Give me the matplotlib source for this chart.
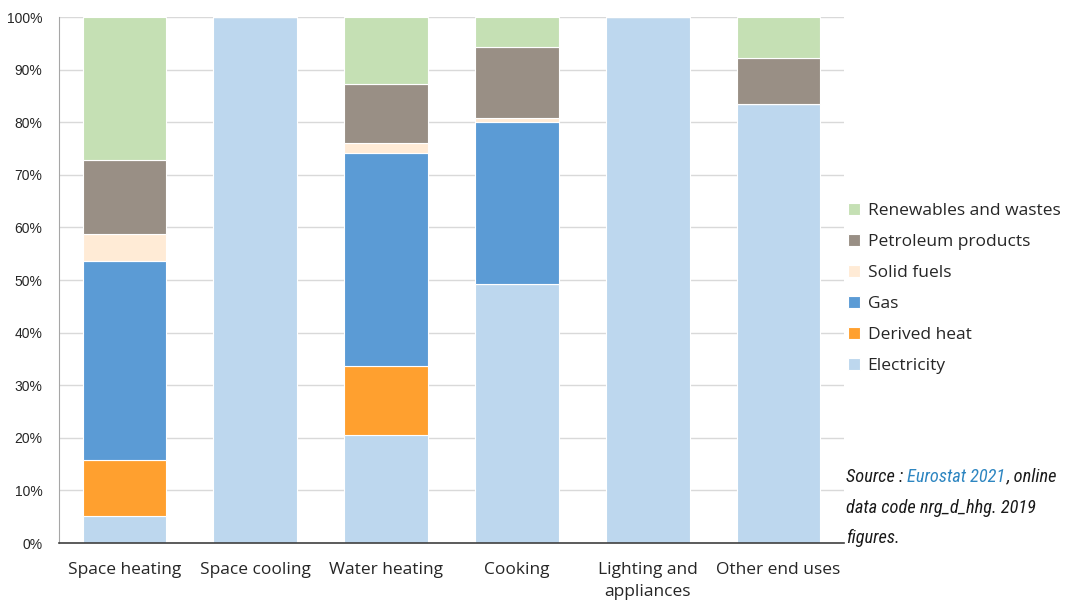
import matplotlib

matplotlib.use("Agg")
import matplotlib.pyplot as plt
import numpy as np
from matplotlib import font_manager
from matplotlib.ticker import PercentFormatter

# Household final energy use by end use and fuel (%), 2019
categories = ["Space heating", "Space cooling", "Water heating", "Cooking",
              "Lighting and\nappliances", "Other end uses"]
electricity = [5.2, 100.0, 20.5, 49.2, 100.0, 83.4]
derived_heat = [10.5, 0.0, 13.1, 0.0, 0.0, 0.0]
gas = [38.0, 0.0, 40.6, 30.9, 0.0, 0.0]
solid_fuels = [5.1, 0.0, 1.9, 0.7, 0.0, 0.0]
petroleum = [14.1, 0.0, 11.2, 13.5, 0.0, 8.8]
renewables = [27.1, 0.0, 12.7, 5.7, 0.0, 7.8]

series = [
    ("Electricity", electricity, "#bdd7ee"),
    ("Derived heat", derived_heat, "#ffa02f"),
    ("Gas", gas, "#5b9bd5"),
    ("Solid fuels", solid_fuels, "#ffebd6"),
    ("Petroleum products", petroleum, "#998f85"),
    ("Renewables and wastes", renewables, "#c5e0b4"),
]

LABEL_FONT = ["Open Sans", "DejaVu Sans"]

# narrow face for the source note, if one is around
installed = {f.name for f in font_manager.fontManager.ttflist}
narrow = [n for n in ("Roboto Condensed", "Liberation Sans Narrow",
                      "DejaVu Sans Condensed", "Open Sans Condensed",
                      "Noto Sans Condensed") if n in installed]
if narrow:
    note_family, note_size = [narrow[0], "DejaVu Sans"], 13.2
else:
    note_family, note_size = ["DejaVu Sans"], 11.2

fig = plt.figure(figsize=(10.75, 6.03), dpi=100)
ax = fig.add_axes([0.0549, 0.0995, 0.7302, 0.8723])

x = np.arange(len(categories))
bottom = np.zeros(len(categories))
handles = []
for name, vals, color in series:
    vals = np.asarray(vals)
    h = ax.bar(x, vals, bottom=bottom, width=0.64, color=color,
               edgecolor="white", linewidth=0.8, label=name, zorder=2)
    handles.append(h)
    bottom += vals

ax.set_xlim(-0.5, len(categories) - 0.5)
ax.set_ylim(0, 100)
ax.set_yticks(np.arange(0, 101, 10))
ax.yaxis.set_major_formatter(PercentFormatter(decimals=0))
ax.grid(axis="y", color="#d9d9d9", linewidth=1.0, zorder=0)
ax.set_axisbelow(True)

for side in ("top", "right"):
    ax.spines[side].set_visible(False)
ax.spines["left"].set_color("#a6a6a6")
ax.spines["bottom"].set_color("#404040")
ax.spines["bottom"].set_linewidth(1.2)

ax.tick_params(axis="both", length=0)
ax.tick_params(axis="y", labelsize=10, pad=12, labelcolor="#262626")
ax.set_yticklabels([f"{v}%" for v in range(0, 101, 10)],
                   family=["Liberation Sans", "DejaVu Sans"])
ax.set_xticks(x)
ax.set_xticklabels(categories, family=LABEL_FONT, fontsize=12.5,
                   color="#262626", linespacing=1.5)
ax.tick_params(axis="x", pad=14)

leg = fig.legend(handles[::-1], [s[0] for s in series][::-1],
                 loc="center left", bbox_to_anchor=(0.774, 0.5216),
                 frameon=False, prop={"family": LABEL_FONT, "size": 12.5},
                 handlelength=0.7, handleheight=0.7, handletextpad=0.45,
                 labelspacing=0.85, labelcolor="#262626")

# Source note in italics, with the dataset name highlighted
note_font = dict(family=note_family, style="italic", fontsize=note_size,
                 color="#1a1a1a")
t1 = fig.text(0.787, 0.201, "Source : ", va="baseline", **note_font)
t2 = ax.annotate("Eurostat 2021", xy=(1, 0), xycoords=t1, va="bottom",
                 ha="left", annotation_clip=False,
                 **{**note_font, "color": "#2e86c1"})
ax.annotate(", online", xy=(1, 0), xycoords=t2, va="bottom", ha="left",
            annotation_clip=False, **note_font)
fig.text(0.787, 0.149, "data code nrg_d_hhg. 2019", va="baseline", **note_font)
fig.text(0.787, 0.100, "figures.", va="baseline", **note_font)

fig.savefig("out.png", dpi=100)
